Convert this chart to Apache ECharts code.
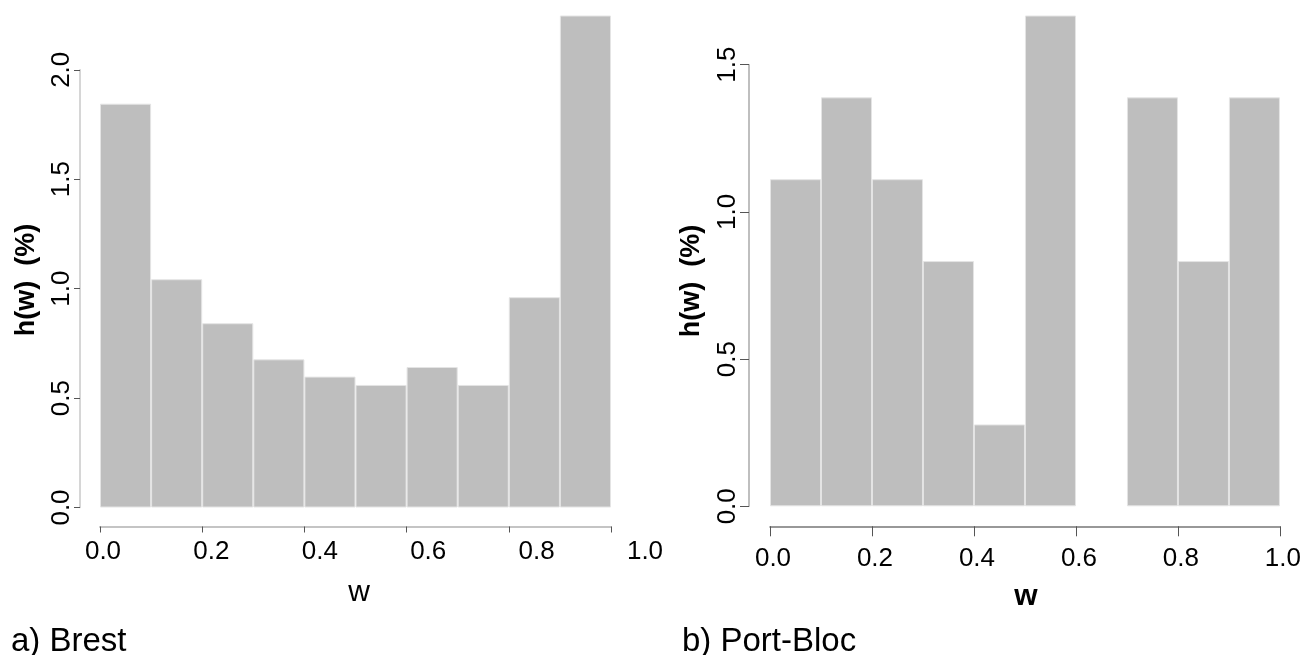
<!DOCTYPE html>
<html>
<head>
<meta charset="utf-8">
<script src="https://cdn.jsdelivr.net/npm/echarts@6/dist/echarts.min.js"></script>
<style>
html,body{margin:0;padding:0;background:#fff;}
#chart{width:1304px;height:655px;}
</style>
</head>
<body>
<div id="chart"></div>
<script>
// ---- data ----
const bins = ['0.0-0.1','0.1-0.2','0.2-0.3','0.3-0.4','0.4-0.5','0.5-0.6','0.6-0.7','0.7-0.8','0.8-0.9','0.9-1.0'];
const brestValues = [1.845, 1.043, 0.842, 0.677, 0.598, 0.560, 0.642, 0.560, 0.961, 2.248];
const portBlocValues = [1.111, 1.389, 1.111, 0.833, 0.278, 1.667, 0, 1.389, 0.833, 1.389];
const xTickLabels = ['0.0','0.2','0.4','0.6','0.8','1.0'];
const brestYTickLabels = ['0.0','0.5','1.0','1.5','2.0'];
const portYTickLabels = ['0.0','0.5','1.0','1.5'];
const yTitle = 'h(w)  (%)';
const xTitle = 'w';
const captions = ['a) Brest', 'b) Port-Bloc'];

// ---- layout ----
const FONT = '"Liberation Sans", Arial, sans-serif';
const barFill = '#bebebe';
const barBorder = '#e4e4e4';

const brestMax = Math.max(...brestValues);
const portMax = Math.max(...portBlocValues);
const brestYMax = parseFloat(brestYTickLabels[brestYTickLabels.length - 1]);
const portYMax = parseFloat(portYTickLabels[portYTickLabels.length - 1]);

const L = {left: 100, width: 511, top: 15.5, bottom: 507.5, yAxisX: 80};
const R = {left: 770, width: 511, top: 15.5, bottom: 506.3, yAxisX: 749};
const lH = L.bottom - L.top, rH = R.bottom - R.top;
const lAxisH = lH * brestYMax / brestMax;
const rAxisH = rH * portYMax / portMax;

const hidden = {show: false};

const chart = echarts.init(document.getElementById('chart'), null, {renderer: 'canvas'});
chart.setOption({
  animation: false,
  backgroundColor: '#ffffff',
  grid: [
    {left: L.left, width: L.width, top: L.top, height: lH},                                         // 0 Brest bars
    {left: L.yAxisX, width: 200, top: L.bottom - lAxisH, height: lAxisH},                           // 1 Brest y axis
    {left: 103, width: 542, top: L.top, height: lH},                                                // 2 Brest x labels
    {left: R.left, width: R.width, top: R.top, height: rH},                                         // 3 Port bars
    {left: R.yAxisX, width: 200, top: R.bottom - rAxisH, height: rAxisH}                            // 4 Port y axis
  ],
  xAxis: [
    {type: 'category', gridIndex: 0, data: bins, show: false, boundaryGap: true},
    {type: 'value', gridIndex: 0, min: 0, max: 1, interval: 0.2, position: 'bottom', offset: 19,
      axisLine: {show: true, lineStyle: {color: '#c4c4c4', width: 2}},
      axisTick: {show: true, length: 6, lineStyle: {color: '#555', width: 1}},
      axisLabel: {show: false}, splitLine: hidden},
    {type: 'value', gridIndex: 1, min: 0, max: 1, show: false},
    {type: 'value', gridIndex: 2, min: 0, max: 1, interval: 0.2, position: 'bottom', offset: 19,
      axisLine: hidden, axisTick: hidden, splitLine: hidden,
      axisLabel: {show: true, margin: 12, color: '#000', fontFamily: FONT, fontSize: 26,
        formatter: v => xTickLabels[Math.round(v / 0.2)]}},
    {type: 'category', gridIndex: 3, data: bins, show: false, boundaryGap: true},
    {type: 'value', gridIndex: 3, min: 0, max: 1, interval: 0.2, position: 'bottom', offset: 20,
      axisLine: {show: true, lineStyle: {color: '#777', width: 1.5}},
      axisTick: {show: true, length: 10, lineStyle: {color: '#555', width: 1}},
      splitLine: hidden,
      axisLabel: {show: true, margin: 20, color: '#000', fontFamily: FONT, fontSize: 26,
        padding: [0, 0, 0, 6], formatter: v => xTickLabels[Math.round(v / 0.2)]}},
    {type: 'value', gridIndex: 4, min: 0, max: 1, show: false}
  ],
  yAxis: [
    {type: 'value', gridIndex: 0, min: 0, max: 'dataMax', show: false},
    {type: 'value', gridIndex: 1, min: 0, max: brestYMax, interval: 0.5, position: 'left',
      axisLine: {show: true, lineStyle: {color: '#c8c8c8', width: 1.5}},
      axisTick: {show: true, length: 6, lineStyle: {color: '#555', width: 1}},
      splitLine: hidden,
      axisLabel: {show: true, rotate: 90, margin: 5, color: '#000', fontFamily: FONT, fontSize: 26,
        formatter: v => brestYTickLabels[Math.round(v / 0.5)]}},
    {type: 'value', gridIndex: 2, min: 0, max: 1, show: false},
    {type: 'value', gridIndex: 3, min: 0, max: 'dataMax', show: false},
    {type: 'value', gridIndex: 4, min: 0, max: portYMax, interval: 0.5, position: 'left',
      axisLine: {show: true, lineStyle: {color: '#aaa', width: 1.5}},
      axisTick: {show: true, length: 9, lineStyle: {color: '#555', width: 1}},
      splitLine: hidden,
      axisLabel: {show: true, rotate: 90, margin: 8, color: '#000', fontFamily: FONT, fontSize: 26,
        formatter: v => portYTickLabels[Math.round(v / 0.5)]}}
  ],
  series: [
    {type: 'bar', xAxisIndex: 0, yAxisIndex: 0, data: brestValues, barWidth: '100%', barGap: '0%',
      itemStyle: {color: barFill, borderColor: barBorder, borderWidth: 1}, silent: true},
    {type: 'bar', xAxisIndex: 4, yAxisIndex: 3, data: portBlocValues.map(v => v === 0 ? '-' : v),
      barWidth: '100%', barGap: '0%',
      itemStyle: {color: barFill, borderColor: barBorder, borderWidth: 1}, silent: true}
  ],
  graphic: [
    {type: 'text', x: 27, y: 280, rotation: Math.PI / 2,
      style: {text: yTitle, font: 'bold 27px ' + FONT, fill: '#000', align: 'center', verticalAlign: 'middle'}},
    {type: 'text', x: 692, y: 281, rotation: Math.PI / 2,
      style: {text: yTitle, font: 'bold 27px ' + FONT, fill: '#000', align: 'center', verticalAlign: 'middle'}},
    {type: 'text', x: 359, y: 593,
      style: {text: xTitle, font: '30px ' + FONT, fill: '#000', align: 'center', verticalAlign: 'middle'}},
    {type: 'text', x: 1026, y: 597,
      style: {text: xTitle, font: 'bold 30px ' + FONT, fill: '#000', align: 'center', verticalAlign: 'middle'}},
    {type: 'text', x: 11, y: 642,
      style: {text: captions[0], font: '33px ' + FONT, fill: '#000', align: 'left', verticalAlign: 'middle'}},
    {type: 'text', x: 682, y: 642,
      style: {text: captions[1], font: '33px ' + FONT, fill: '#000', align: 'left', verticalAlign: 'middle'}}
  ]
});
</script>
</body>
</html>
